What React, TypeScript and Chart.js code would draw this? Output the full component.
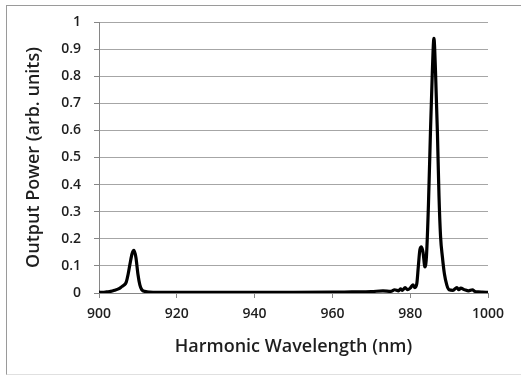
import React, { useEffect, useRef } from "react";
import { Chart, registerables } from "chart.js";

Chart.register(...registerables);

const wavelengths: number[] = [
  900, 901, 902, 903, 904, 905, 906, 906.5, 907, 907.5, 908, 908.5, 909, 909.5, 910, 910.5, 911, 912, 913, 915,
  920, 930, 940, 950, 960, 965, 970, 973, 975, 976, 977, 977.5, 978, 978.7, 979.3, 980, 980.7, 981.2, 981.7,
  982.1, 982.5, 982.9, 983.3, 983.8, 984.2, 984.7, 985.2, 985.7, 986.1, 986.5, 987, 987.4, 987.8, 988.3, 988.8,
  989.4, 990, 991, 992, 992.5, 993, 994, 995, 996, 996.6, 997.5, 998.5, 1000,
];
const outputPower: number[] = [
  0.003, 0.002, 0.004, 0.006, 0.01, 0.015, 0.025, 0.03, 0.04, 0.07, 0.11, 0.145, 0.157, 0.13, 0.07, 0.03, 0.012, 0.005, 0.003, 0.002,
  0.002, 0.002, 0.002, 0.002, 0.003, 0.004, 0.005, 0.008, 0.006, 0.012, 0.008, 0.015, 0.01, 0.02, 0.012, 0.018, 0.03, 0.02, 0.035,
  0.1, 0.16, 0.17, 0.15, 0.096, 0.14, 0.33, 0.59, 0.82, 0.94, 0.82, 0.59, 0.36, 0.21, 0.13, 0.07,
  0.03, 0.012, 0.01, 0.02, 0.012, 0.018, 0.012, 0.008, 0.012, 0.006, 0.004, 0.003, 0.002,
];
const xTicks: number[] = [900, 920, 940, 960, 980, 1000];
const yTicks: number[] = [0, 0.1, 0.2, 0.3, 0.4, 0.5, 0.6, 0.7, 0.8, 0.9, 1];

export default function App() {
  const ref = useRef<HTMLCanvasElement | null>(null);
  useEffect(() => {
    if (!ref.current) return;
    const font = "'Open Sans', 'DejaVu Sans', sans-serif";
    const chart = new Chart(ref.current, {
      type: "scatter",
      data: {
        datasets: [
          {
            data: wavelengths.map((x, i) => ({ x, y: outputPower[i] })),
            showLine: true,
            borderColor: "#000000",
            borderWidth: 3.2,
            pointRadius: 0,
            cubicInterpolationMode: "monotone",
          },
        ],
      },
      options: {
        animation: false,
        responsive: false,
        maintainAspectRatio: false,
        plugins: { legend: { display: false }, tooltip: { enabled: false } },
        layout: { padding: { left: 0, right: 33, top: 22, bottom: 0 } },
        scales: {
          x: {
            type: "linear",
            min: 900,
            max: 1000,
            afterBuildTicks: (s: any) => {
              s.ticks = xTicks.map((v) => ({ value: v }));
            },
            afterFit: (s: any) => {
              s.height = 86;
            },
            grid: { drawOnChartArea: false, drawTicks: true, tickLength: 5, color: "#868686" },
            border: { color: "#868686", width: 1 },
            ticks: {
              color: "#1e1e1e",
              font: { family: font, size: 14, weight: "600" },
              padding: 8,
              maxRotation: 0,
              callback: (v: any) => String(v),
            },
            title: {
              display: true,
              text: "Harmonic Wavelength (nm)",
              color: "#1e1e1e",
              font: { family: font, size: 18, weight: "600" },
              padding: { top: 0, bottom: 21 },
            },
          },
          y: {
            min: 0,
            max: 1,
            afterBuildTicks: (s: any) => {
              s.ticks = yTicks.map((v) => ({ value: v }));
            },
            afterFit: (s: any) => {
              s.width = 99;
            },
            grid: { color: "#a6a6a6", lineWidth: 1, tickLength: 5, tickColor: "#868686" },
            border: { color: "#868686", width: 1 },
            ticks: {
              color: "#1e1e1e",
              font: { family: font, size: 14, weight: "600" },
              padding: 13,
              callback: (v: any) => String(Math.round(Number(v) * 10) / 10),
            },
            title: {
              display: true,
              text: "Output Power (arb. units)",
              color: "#1e1e1e",
              font: { family: font, size: 18, weight: "600" },
              padding: { top: 23, bottom: 0 },
            },
          },
        },
      },
    });
    return () => chart.destroy();
  }, []);
  return (
    <div style={{ position: "absolute", left: 0, top: 0, width: 521, height: 379, background: "#fff" }}>
      <div
        style={{
          position: "absolute",
          left: 6,
          top: 5,
          width: 520,
          height: 370,
          borderLeft: "1px solid #9a9a9a",
          borderTop: "1px solid #9a9a9a",
          borderBottom: "1px solid #e0e0e0",
          boxSizing: "border-box",
        }}
      />
      <canvas ref={ref} width={521} height={379} style={{ position: "absolute", left: 0, top: 0 }} />
    </div>
  );
}
